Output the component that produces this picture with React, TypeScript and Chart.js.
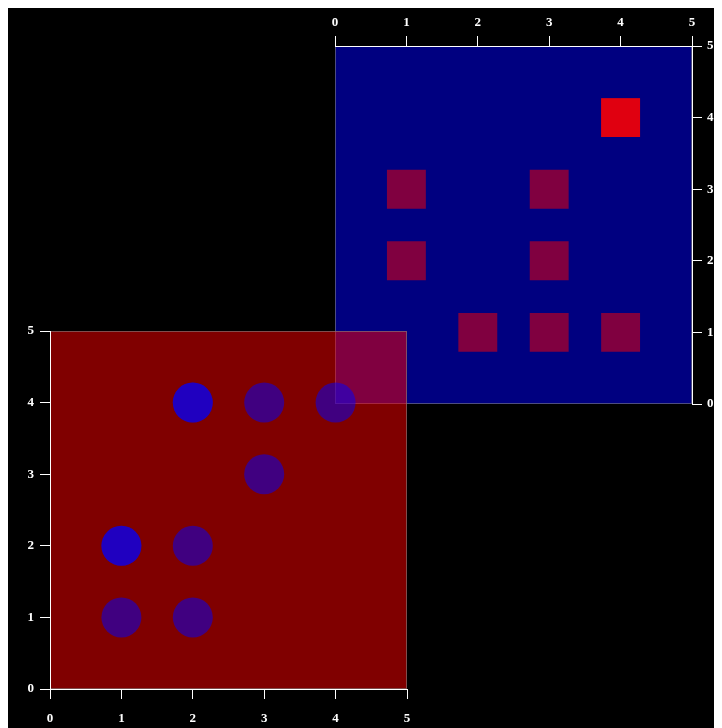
import React, { useEffect, useRef } from "react";
import { Chart, registerables } from "chart.js";

Chart.register(...registerables);

// Circles (bottom-left, red panel)
const circleX = [2, 2, 3, 4, 3, 1, 1, 2, 1, 2];
const circleY = [4, 4, 4, 4, 3, 2, 2, 2, 1, 1];
// Squares (top-right, blue panel)
const squareX = [1, 3, 1, 3, 2, 3, 4, 4, 4, 4];
const squareY = [3, 3, 2, 2, 1, 1, 1, 4, 4, 4];
// Axis range / ticks
const axisMin = 0;
const axisMax = 5;
const tickStep = 1;

const W = 714;
const H = 723;
const FONT = { family: "'Liberation Serif', 'Times New Roman', serif", weight: "bold" as const, size: 13 };

const areaPlugin = (fill: string) => ({
  id: "areaFill",
  beforeDraw(chart: any) {
    const { ctx, chartArea: a } = chart;
    ctx.save();
    ctx.fillStyle = fill;
    ctx.fillRect(a.left, a.top, a.right - a.left, a.bottom - a.top);
    ctx.strokeStyle = "rgba(128,128,128,0.6)";
    ctx.lineWidth = 1;
    ctx.strokeRect(a.left + 0.5, a.top + 0.5, a.right - a.left - 1, a.bottom - a.top - 1);
    ctx.restore();
  },
});

function axis(position: string, padding: number, size: number, horizontal: boolean) {
  return {
    type: "linear" as const,
    position,
    min: axisMin,
    max: axisMax,
    ticks: { stepSize: tickStep, color: "#ffffff", font: FONT, padding },
    grid: { drawOnChartArea: false, drawTicks: true, color: "#ffffff", tickLength: 10 },
    border: { display: true, color: "#ffffff", width: 1 },
    afterFit: (s: any) => {
      if (horizontal) s.height = size;
      else s.width = size;
    },
  };
}

export default function App() {
  const redRef = useRef<HTMLCanvasElement>(null);
  const blueRef = useRef<HTMLCanvasElement>(null);

  useEffect(() => {
    const blue = new Chart(blueRef.current!, {
      type: "scatter",
      data: {
        datasets: [
          {
            data: squareX.map((x, i) => ({ x, y: squareY[i] })),
            pointStyle: "rect",
            pointRadius: 27.5,
            pointHoverRadius: 27.5,
            backgroundColor: "rgba(255,0,0,0.5)",
            borderWidth: 0,
          },
        ],
      },
      options: {
        animation: false,
        responsive: false,
        devicePixelRatio: 1,
        layout: { padding: { left: 327, right: 0, top: 0, bottom: 324 } },
        plugins: { legend: { display: false }, tooltip: { enabled: false } },
        scales: {
          x: axis("top", 6, 41, true),
          y: axis("right", 5, 30, false),
        } as any,
      },
      plugins: [areaPlugin("rgba(0,0,255,0.5)")],
    });
    const red = new Chart(redRef.current!, {
      type: "scatter",
      data: {
        datasets: [
          {
            data: circleX.map((x, i) => ({ x, y: circleY[i] })),
            pointStyle: "circle",
            pointRadius: 20,
            pointHoverRadius: 20,
            backgroundColor: "rgba(0,0,255,0.5)",
            borderWidth: 0,
          },
        ],
      },
      options: {
        animation: false,
        responsive: false,
        devicePixelRatio: 1,
        layout: { padding: { left: 0, right: 315, top: 326, bottom: 0 } },
        plugins: { legend: { display: false }, tooltip: { enabled: false } },
        scales: {
          x: axis("bottom", 12, 39, true),
          y: axis("left", 6, 42, false),
        } as any,
      },
      plugins: [areaPlugin("rgba(255,0,0,0.5)")],
    });
    return () => {
      red.destroy();
      blue.destroy();
    };
  }, []);

  const cs: React.CSSProperties = { position: "absolute", left: 0, top: 0, width: W, height: H };
  return (
    <div style={{ position: "relative", width: W, height: H, background: "#000", marginTop: -3 }}>
      <canvas ref={blueRef} width={W} height={H} style={cs} />
      <canvas ref={redRef} width={W} height={H} style={cs} />
    </div>
  );
}
